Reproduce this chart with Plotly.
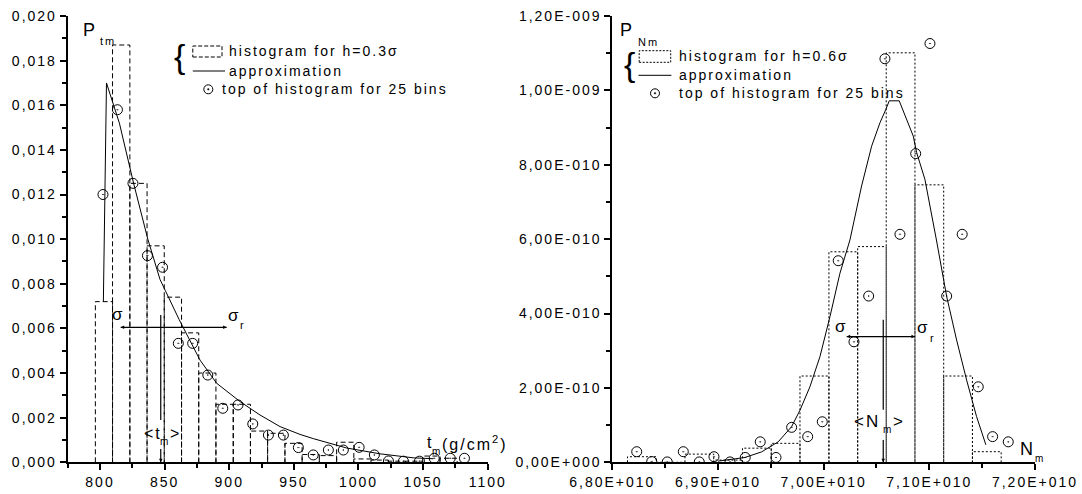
import plotly.graph_objects as go

W, H = 1082, 494
FONT = "Liberation Sans, Arial, sans-serif"

# ---------------- left panel data (t_m) ----------------
t_edges = [796.4, 809.7, 823.1, 836.4, 849.7, 863.1, 876.4, 889.7, 903.1, 916.4, 929.7,
           943.1, 956.4, 969.7, 983.1, 996.4, 1009.7, 1023.1, 1036.4, 1049.7, 1063.1, 1076.4]
t_hist = [0.0072, 0.0187, 0.0125, 0.0097, 0.0074, 0.0058, 0.0040, 0.0026, 0.0026, 0.0014,
          0.0013, 0.00085, 0.00035, 0.0003, 0.0009, 0.00015, 0.0001, 0.00005, 0.00005,
          0.00028, 0.00018]
t_top_x = [802.3, 813.5, 825.5, 836.7, 848.4, 860.6, 871.7, 883.4, 895.0, 906.8, 918.2,
           930.3, 941.9, 953.5, 965.0, 976.7, 988.3, 1000.5, 1012.3, 1023.2, 1034.8,
           1047.2, 1058.6, 1071.0, 1082.0]
t_top_y = [0.0120, 0.0158, 0.0125, 0.00926, 0.00874, 0.00533, 0.00533, 0.00391, 0.00242,
           0.00257, 0.00172, 0.00122, 0.00122, 0.00066, 0.00033, 0.00055, 0.00055, 0.00067,
           0.00033, 0.00006, 0.00005, 0.00005, 0.00018, 0.00018, 0.00018]
t_fit_x = [802.6, 805.0, 815.0, 826.0, 837.0, 846.4, 850.5, 861.2, 877.4, 890.3, 908.4,
           923.8, 939.3, 954.8, 965.1, 990.9, 1016.7, 1042.5, 1058.0]
t_fit_y = [0.0072, 0.0170, 0.0152, 0.0125, 0.0100, 0.0082, 0.0077, 0.0064, 0.00458,
           0.00354, 0.00272, 0.00212, 0.0016, 0.00125, 0.00106, 0.00064, 0.00038, 0.0002,
           0.00016]
t_mean, t_sig_l, t_sig_r = 847.0, 816.0, 898.0
t_arrow_y, t_line_top = 0.00605, 0.0066
t_ticks = [800, 850, 900, 950, 1000, 1050, 1100]
t_ticktext = ["800", "850", "900", "950", "1000", "1050", "1100"]
p_ticks = [0.000, 0.002, 0.004, 0.006, 0.008, 0.010, 0.012, 0.014, 0.016, 0.018, 0.020]
p_ticktext = ["0,000", "0,002", "0,004", "0,006", "0,008", "0,010", "0,012", "0,014",
              "0,016", "0,018", "0,020"]

# ---------------- right panel data (N_m) ----------------
N_edges = [6.8144e10, 6.8416e10, 6.8688e10, 6.8960e10, 6.9232e10, 6.9504e10, 6.9776e10,
           7.0050e10, 7.0322e10, 7.0592e10, 7.0864e10, 7.1136e10, 7.1408e10, 7.1680e10]
N_hist = [1.5e-11, 0.0, 2.2e-11, 6e-12, 3.8e-11, 5.1e-11, 2.32e-10, 5.66e-10, 5.80e-10,
          1.101e-9, 7.46e-10, 2.32e-10, 2.85e-11]
N_top_x = [6.8231e10, 6.8373e10, 6.8520e10, 6.8672e10, 6.8823e10, 6.8962e10, 6.9114e10,
           6.9258e10, 6.9400e10, 6.9549e10, 6.9697e10, 6.9849e10, 6.9987e10, 7.0138e10,
           7.0287e10, 7.0426e10, 7.0580e10, 7.0722e10, 7.0871e10, 7.1006e10, 7.1164e10,
           7.1311e10, 7.1463e10, 7.1599e10, 7.1747e10]
N_top_y = [2.85e-11, 2e-12, 1e-12, 2.85e-11, 1e-12, 1.5e-11, 1e-12, 1.3e-11, 5.5e-11,
           1.3e-11, 9.4e-11, 6.9e-11, 1.09e-10, 5.42e-10, 3.24e-10, 4.47e-10, 1.085e-9,
           6.13e-10, 8.3e-10, 1.126e-9, 4.47e-10, 6.13e-10, 2.03e-10, 6.9e-11, 5.5e-11]
N_fit_x = [6.9000e10, 6.9255e10, 6.9413e10, 6.9570e10, 6.9697e10, 6.9776e10, 6.9870e10,
           6.9965e10, 7.0060e10, 7.0154e10, 7.0249e10, 7.0359e10, 7.0454e10, 7.0533e10,
           7.0589e10, 7.0621e10, 7.0715e10, 7.0785e10, 7.0848e10, 7.0880e10, 7.0958e10,
           7.1069e10, 7.1164e10, 7.1258e10, 7.1353e10, 7.1447e10, 7.1535e10]
N_fit_y = [0.03e-10, 0.13e-10, 0.28e-10, 0.55e-10, 0.96e-10, 1.40e-10, 2.03e-10, 2.84e-10,
           3.92e-10, 5.08e-10, 5.98e-10, 7.43e-10, 8.50e-10, 9.13e-10, 9.49e-10, 9.72e-10,
           9.72e-10, 9.22e-10, 8.77e-10, 8.33e-10, 7.61e-10, 5.95e-10, 4.46e-10, 3.29e-10,
           2.21e-10, 1.23e-10, 0.47e-10]
N_mean, N_sig_l, N_sig_r = 7.0564e10, 7.0218e10, 7.0864e10
N_arrow_y, N_line_top = 3.38e-10, 3.83e-10
N_ticks = [6.8e10, 6.9e10, 7.0e10, 7.1e10, 7.2e10]
N_ticktext = ["6,80E+010", "6,90E+010", "7,00E+010", "7,10E+010", "7,20E+010"]
PN_ticks = [0, 2e-10, 4e-10, 6e-10, 8e-10, 1.0e-9, 1.2e-9]
PN_ticktext = ["0,00E+000", "2,00E-010", "4,00E-010", "6,00E-010", "8,00E-010",
               "1,00E-009", "1,20E-009"]


def hist_path(edges, heights):
    xs, ys = [], []
    for i, h in enumerate(heights):
        xs += [edges[i], edges[i], edges[i + 1], edges[i + 1], None]
        ys += [0, h, h, 0, None]
    return xs, ys


fig = go.Figure()


def add_panel(xa, ya, edges, hist, dash, fx, fy, tx, ty):
    hx, hy = hist_path(edges, hist)
    fig.add_trace(go.Scatter(x=hx, y=hy, mode="lines", xaxis=xa, yaxis=ya,
                             line=dict(color="black", width=1, dash=dash),
                             hoverinfo="skip", showlegend=False))
    fig.add_trace(go.Scatter(x=fx, y=fy, mode="lines", xaxis=xa, yaxis=ya,
                             line=dict(color="black", width=1), hoverinfo="skip",
                             showlegend=False))
    fig.add_trace(go.Scatter(x=tx, y=ty, mode="markers", xaxis=xa, yaxis=ya,
                             marker=dict(symbol="circle-open-dot", size=10, color="black",
                                         line=dict(width=1, color="black")),
                             hoverinfo="skip", showlegend=False))


def add_sigma(xa, ya, mean, sl, sr, yarr, ytop, ygap_hi, ygap_lo):
    # shafts
    fig.add_trace(go.Scatter(x=[sl, sr, None, mean, mean, None, mean, mean],
                             y=[yarr, yarr, None, ytop, ygap_hi, None, ygap_lo, 0],
                             mode="lines", xaxis=xa, yaxis=ya, cliponaxis=False,
                             line=dict(color="black", width=1.2), hoverinfo="skip",
                             showlegend=False))
    # heads
    fig.add_trace(go.Scatter(x=[sl, sr, mean], y=[yarr, yarr, 0], mode="markers",
                             xaxis=xa, yaxis=ya, cliponaxis=False,
                             marker=dict(symbol=["arrow-left", "arrow-right", "arrow-down"],
                                         size=3.5, color="black",
                                         line=dict(width=0, color="black")),
                             hoverinfo="skip", showlegend=False))


add_panel("x", "y", t_edges, t_hist, "5px,3px", t_fit_x, t_fit_y, t_top_x, t_top_y)
add_panel("x2", "y2", N_edges, N_hist, "2px,2px", N_fit_x, N_fit_y, N_top_x, N_top_y)
add_sigma("x", "y", t_mean, t_sig_l, t_sig_r, t_arrow_y, t_line_top, 0.0019, 0.0006)
add_sigma("x2", "y2", N_mean, N_sig_l, N_sig_r, N_arrow_y, N_line_top, 1.41e-10, 0.6e-10)

tickfont = dict(family=FONT, size=14, color="black")


def axis(domain, rng, tickvals, ticktext, minor_dtick, anchor):
    return dict(domain=domain, range=rng, tickmode="array", tickvals=tickvals,
                ticktext=ticktext, ticks="outside", ticklen=6, tickwidth=1.5,
                tickcolor="black", showline=True, linecolor="black", linewidth=2,
                showgrid=False, zeroline=False, tickfont=tickfont, anchor=anchor,
                tickangle=0, fixedrange=True, automargin=False,
                minor=dict(dtick=minor_dtick, tick0=0, ticks="outside", ticklen=4,
                           tickwidth=1.5, tickcolor="black", showgrid=False))


ydom = [1 - 462.3 / H, 1 - 16 / H]
fig.update_layout(
    width=W, height=H, autosize=False,
    margin=dict(l=0, r=0, t=0, b=0, pad=0, autoexpand=False),
    paper_bgcolor="white", plot_bgcolor="white",
    font=dict(family=FONT, color="black", size=14),
    showlegend=False,
    xaxis=axis([67.7 / W, 487.7 / W], [775, 1100], t_ticks, t_ticktext, 25, "y"),
    yaxis=axis(ydom, [0, 0.020], p_ticks, p_ticktext, 0.001, "x"),
    xaxis2=axis([612.3 / W, 1035 / W], [6.8e10, 7.2e10], N_ticks, N_ticktext, 5e8, "y2"),
    yaxis2=axis(ydom, [0, 1.2e-9], PN_ticks, PN_ticktext, 1e-10, "x2"),
)


def P(xp, yp):
    return xp / W, 1 - yp / H


anns = []


def lab(text, xp, yp, size, xanchor="center"):
    x, y = P(xp, yp)
    anns.append(dict(text=text, x=x, y=y, xref="paper", yref="paper", showarrow=False,
                     xanchor=xanchor, yanchor="middle",
                     align="left" if xanchor == "left" else "center",
                     font=dict(family=FONT, size=size, color="black")))


# left panel labels
lab("P", 90, 30, 18)
lab("tm", 108, 41, 11)
lab("σ", 118, 314.5, 17)
lab("σ", 234.7, 315.7, 17)
lab("r", 243.3, 325, 11)
lab("&lt;t", 152.5, 433.3, 16)
lab("m", 165.3, 441.5, 10)
lab("&gt;", 175.8, 433.3, 16)
lab("t", 430, 442.7, 16)
lab("m", 436.5, 451, 10)
lab("(g/cm<sup>2</sup>)", 440, 442.7, 16, xanchor="left")

# right panel labels
lab("P", 627, 30, 18)
lab("Nm", 648, 42, 11)
lab("σ", 841.3, 326, 17)
lab("σ", 923.8, 327.5, 17)
lab("r", 933.3, 337.5, 11)
lab("&lt;N", 866.7, 421.7, 17)
lab("m", 888.3, 429.5, 10)
lab("&gt;", 899, 421.7, 17)
lab("N", 1027.5, 449, 18)
lab("m", 1040, 458.5, 10)

# legends (custom, with brace)
lab("{", 180, 56, 34)
lab("histogram for h=0.3σ", 227.3, 51.2, 14, xanchor="left")
lab("approximation", 227.3, 70.5, 14, xanchor="left")
lab("top of histogram for 25 bins", 220.4, 88.5, 14, xanchor="left")
lab("{", 630.8, 64, 34)
lab("histogram for h=0.6σ", 677.2, 56.2, 14, xanchor="left")
lab("approximation", 677.2, 74.5, 14, xanchor="left")
lab("top of histogram for 25 bins", 677.2, 92.5, 14, xanchor="left")

shapes = []


def rect_px(x0, y0, x1, y1, dash):
    a, b = P(x0, y0)
    c, d = P(x1, y1)
    shapes.append(dict(type="rect", xref="paper", yref="paper", x0=a, y0=d, x1=c, y1=b,
                       line=dict(color="black", width=1, dash=dash)))


def line_px(x0, y0, x1, y1):
    a, b = P(x0, y0)
    c, d = P(x1, y1)
    shapes.append(dict(type="line", xref="paper", yref="paper", x0=a, y0=b, x1=c, y1=d,
                       line=dict(color="black", width=1)))


def circ_px(xc, yc, r):
    a, b = P(xc - r, yc + r)
    c, d = P(xc + r, yc - r)
    shapes.append(dict(type="circle", xref="paper", yref="paper", x0=a, y0=b, x1=c, y1=d,
                       line=dict(color="black", width=1)))
    a, b = P(xc - 0.8, yc + 0.8)
    c, d = P(xc + 0.8, yc - 0.8)
    shapes.append(dict(type="circle", xref="paper", yref="paper", x0=a, y0=b, x1=c, y1=d,
                       fillcolor="black", line=dict(color="black", width=0.5)))


rect_px(192.8, 46, 222, 57, "4px,2px")
line_px(192.8, 71, 225, 71)
circ_px(208.3, 89.3, 4.5)
rect_px(639.2, 50.7, 670.7, 62.3, "2px,1.5px")
line_px(638.5, 75.3, 671.4, 75.3)
circ_px(655, 93.3, 4.5)

fig.update_layout(annotations=anns, shapes=shapes)

post = ("var s=document.createElement('style');"
        "s.textContent='html,body{margin:0;padding:0;overflow:hidden;} "
        ".main-svg text{letter-spacing:2px;}';"
        "document.head.appendChild(s);")
fig.write_html("out.html", post_script=post, config={"displayModeBar": False})
